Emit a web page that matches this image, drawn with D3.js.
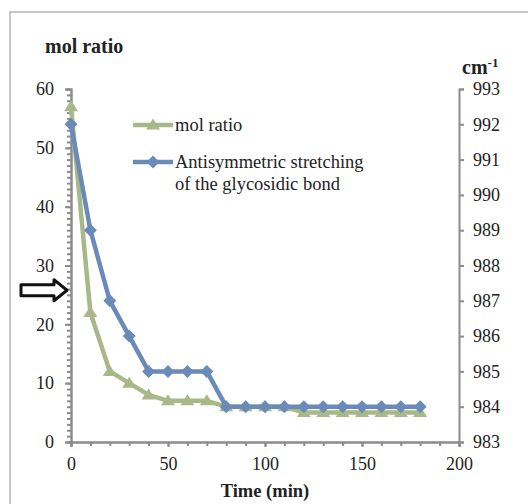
<!DOCTYPE html>
<html>
<meta charset="utf-8">
<head>
  <script src="https://d3js.org/d3.v7.js"></script>
  <style>
    body { margin: 0; background: #fff; }
    text { font-family: "Liberation Serif", "Times New Roman", serif; fill: #222; }
  </style>
</head>
<body>
<svg id="graph" width="528" height="504"></svg>
<script>
  // data
  var times = [0, 10, 20, 30, 40, 50, 60, 70, 80, 90, 100, 110, 120, 130, 140, 150, 160, 170, 180];
  var molRatio = [57, 22, 12, 10, 8, 7, 7, 7, 6, 6, 6, 6, 5, 5, 5, 5, 5, 5, 5];
  var stretching = [992, 989, 987, 986, 985, 985, 985, 985, 984, 984, 984, 984, 984, 984, 984, 984, 984, 984, 984];
  var xTicks = [0, 50, 100, 150, 200];
  var leftTicks = [0, 10, 20, 30, 40, 50, 60];
  var rightTicks = [983, 984, 985, 986, 987, 988, 989, 990, 991, 992, 993];
  var arrowAt = 25.8;

  var green = "#a8b888", blue = "#6a8bb8", axisGrey = "#8c8c8c";

  var svg = d3.select("svg#graph");
  var margin = {top: 89, right: 69, bottom: 62, left: 71};
  var width = 528 - margin.left - margin.right;
  var height = 504 - margin.top - margin.bottom;

  // outer frame (runs off the right and bottom)
  svg.append("rect")
    .attr("x", 10).attr("y", 12)
    .attr("width", 540).attr("height", 520)
    .attr("fill", "none").attr("stroke", "#b5b5b5").attr("stroke-width", 1.5);

  var g = svg.append("g").attr("transform", `translate(${margin.left}, ${margin.top})`);

  var x = d3.scaleLinear().domain([0, 200]).range([0, width]);
  var yL = d3.scaleLinear().domain([0, 60]).range([height, 0]);
  var yR = d3.scaleLinear().domain([983, 993]).range([height, 0]);

  function styleAxis(sel) {
    sel.select(".domain").attr("stroke", axisGrey).attr("stroke-width", 2);
    sel.selectAll(".tick line").attr("stroke", axisGrey).attr("stroke-width", 2);
    sel.selectAll("text").style("font-size", "18px").attr("fill", "#222");
  }

  // minor ticks
  g.append("g")
    .call(d3.axisLeft(yL).ticks(60).tickSize(4).tickFormat(""))
    .call(styleAxis);
  g.append("g")
    .attr("transform", `translate(0, ${height})`)
    .call(d3.axisBottom(x).tickValues(d3.range(0, 201, 10)).tickSize(4).tickFormat(""))
    .call(styleAxis);

  // major axes
  g.append("g")
    .call(d3.axisLeft(yL).tickValues(leftTicks).tickSize(6).tickPadding(11))
    .call(styleAxis);
  g.append("g")
    .attr("transform", `translate(0, ${height})`)
    .call(d3.axisBottom(x).tickValues(xTicks).tickSize(5).tickPadding(10))
    .call(styleAxis);
  g.append("g")
    .attr("transform", `translate(${width}, 0)`)
    .call(d3.axisRight(yR).tickValues(rightTicks).tickSize(5).tickPadding(9).tickFormat(d3.format("d")))
    .call(styleAxis);

  // lines
  var lineL = d3.line().x((d, i) => x(times[i])).y(d => yL(d));
  var lineR = d3.line().x((d, i) => x(times[i])).y(d => yR(d));

  // excel-like markers: flat triangle and square diamond
  var tri = "M0,-6.5L7,4.5L-7,4.5Z";
  var dia = "M0,-6.5L6.5,0L0,6.5L-6.5,0Z";

  g.append("path").datum(molRatio)
    .attr("d", lineL).attr("fill", "none").attr("stroke", green).attr("stroke-width", 4.5).attr("stroke-linejoin", "round");
  g.selectAll(".tri").data(molRatio).enter().append("path")
    .attr("d", tri).attr("fill", green)
    .attr("transform", (d, i) => `translate(${x(times[i])}, ${yL(d)})`);

  g.append("path").datum(stretching)
    .attr("d", lineR).attr("fill", "none").attr("stroke", blue).attr("stroke-width", 4.5).attr("stroke-linejoin", "round");
  g.selectAll(".dia").data(stretching).enter().append("path")
    .attr("d", dia).attr("fill", blue)
    .attr("transform", (d, i) => `translate(${x(times[i])}, ${yR(d)})`);

  // legend
  var leg = svg.append("g");
  leg.append("line").attr("x1", 133).attr("x2", 173).attr("y1", 125).attr("y2", 125)
    .attr("stroke", green).attr("stroke-width", 4.5);
  leg.append("path").attr("d", tri).attr("fill", green).attr("transform", "translate(153, 125)");
  leg.append("text").attr("x", 175).attr("y", 131).style("font-size", "18.5px").text("mol ratio");

  leg.append("line").attr("x1", 133).attr("x2", 173).attr("y1", 162).attr("y2", 162)
    .attr("stroke", blue).attr("stroke-width", 4.5);
  leg.append("path").attr("d", dia).attr("fill", blue).attr("transform", "translate(153, 162)");
  leg.append("text").attr("x", 175).attr("y", 168).style("font-size", "18.5px").text("Antisymmetric stretching");
  leg.append("text").attr("x", 175).attr("y", 190).style("font-size", "18.5px").text("of the glycosidic bond");

  // axis titles
  svg.append("text").attr("x", 45).attr("y", 53)
    .style("font-size", "20px").style("font-weight", "bold").text("mol ratio");
  var cm = svg.append("text").attr("x", 462).attr("y", 74)
    .style("font-size", "20px").style("font-weight", "bold");
  cm.append("tspan").text("cm");
  cm.append("tspan").attr("dy", -7).style("font-size", "13px").text("-1");
  svg.append("text").attr("x", margin.left + x(100)).attr("y", 497)
    .attr("text-anchor", "middle")
    .style("font-size", "18.5px").style("font-weight", "bold").text("Time (min)");

  // hollow arrow pointing at the left axis
  var ay = margin.top + yL(arrowAt);
  var arrow = d3.path();
  arrow.moveTo(21, ay - 5.5);
  arrow.lineTo(54, ay - 5.5);
  arrow.lineTo(54, ay - 10.5);
  arrow.lineTo(67, ay);
  arrow.lineTo(54, ay + 10.5);
  arrow.lineTo(54, ay + 5.5);
  arrow.lineTo(21, ay + 5.5);
  arrow.closePath();
  svg.append("path").attr("d", arrow.toString())
    .attr("fill", "#fff").attr("stroke", "#111").attr("stroke-width", 3).attr("stroke-linejoin", "round");
</script>
</body>
</html>
